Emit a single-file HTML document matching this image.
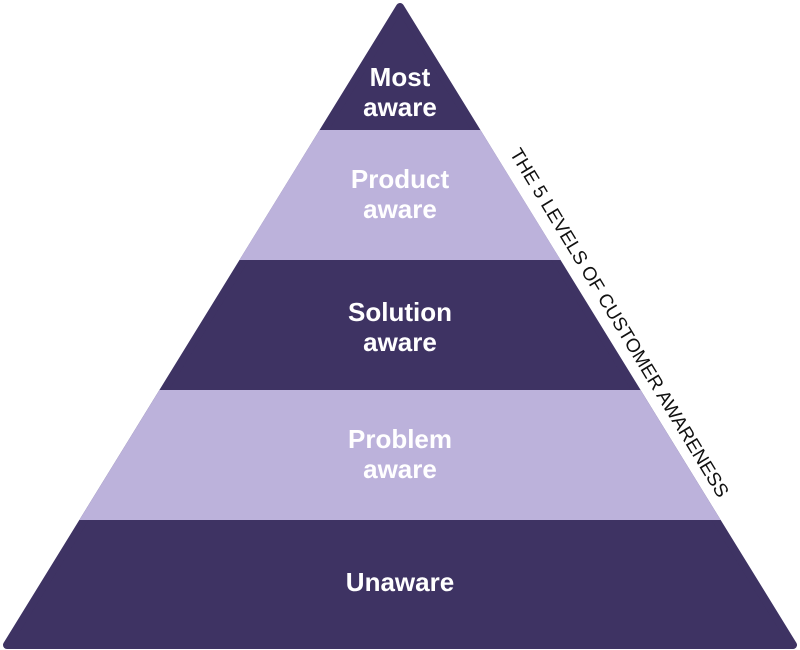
<!DOCTYPE html>
<html><head><style>
html,body{margin:0;padding:0;background:#fff;width:800px;height:650px;overflow:hidden}
svg{display:block}
.l{font-family:"Liberation Sans",sans-serif;font-weight:bold;font-size:26px;fill:#fff;text-anchor:middle}
</style></head><body>
<svg width="800" height="650" viewBox="0 0 800 650">
<path d="M400,7 L793,645 L7,645 Z" fill="#3e3363" stroke="#3e3363" stroke-width="8" stroke-linejoin="round"/>
<polygon points="319.5,130 480.5,130 560.6,260 239.4,260" fill="#bcb2db"/>
<polygon points="159.4,390 640.6,390 720.7,520 79.3,520" fill="#bcb2db"/>
<text class="l" x="400" y="86">Most</text>
<text class="l" x="400" y="116">aware</text>
<text class="l" x="400" y="188">Product</text>
<text class="l" x="400" y="218">aware</text>
<text class="l" x="400" y="321">Solution</text>
<text class="l" x="400" y="351">aware</text>
<text class="l" x="400" y="448">Problem</text>
<text class="l" x="400" y="478">aware</text>
<text class="l" x="400" y="591">Unaware</text>
<text x="0" y="0" transform="translate(614,326) rotate(58.8)" font-family="Liberation Sans,sans-serif" font-size="19" textLength="404" lengthAdjust="spacingAndGlyphs" fill="#111" text-anchor="middle">THE 5 LEVELS OF CUSTOMER AWARENESS</text>
</svg>
</body></html>
